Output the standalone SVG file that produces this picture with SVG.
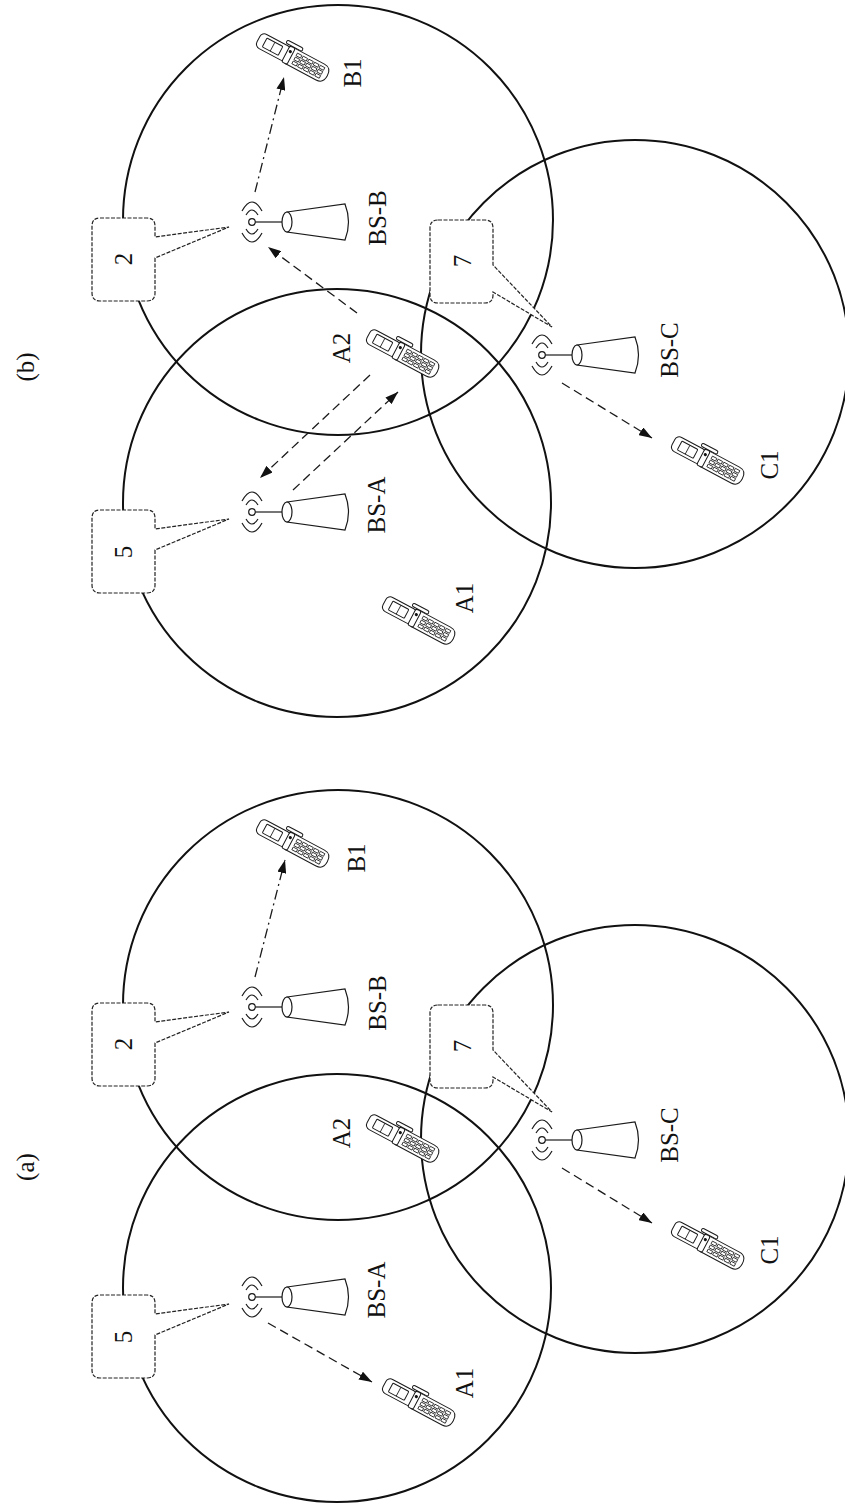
<svg xmlns="http://www.w3.org/2000/svg" xmlns:xlink="http://www.w3.org/1999/xlink" width="845" height="1505" viewBox="0 0 845 1505">
<style>
.cell{fill:none;stroke:#111;stroke-width:2}
.ant{fill:none;stroke:#1a1a1a;stroke-width:1.2}
.callout{fill:#fff;stroke:#222;stroke-width:1.2;stroke-dasharray:4 1.5}
.lbl{font-family:"Liberation Serif","Times New Roman",serif;font-size:25px;fill:#111}
.conn{fill:none;stroke:#1a1a1a;stroke-width:1.3;stroke-dasharray:9 5}
.dd{stroke-dasharray:10 4 2 4}
.ph{fill:#fff;stroke:#1a1a1a;stroke-width:1}
.key{fill:#fff;stroke:#1a1a1a;stroke-width:0.8}
</style>
<defs>
<marker id="arr" markerUnits="userSpaceOnUse" markerWidth="13" markerHeight="9" viewBox="0 0 13 9" refX="13" refY="4.5" orient="auto">
<path d="M0,0 L13,4.5 L0,9 Z" fill="#111"/>
</marker>
<g id="antenna" class="ant">
<circle cx="0" cy="0" r="3.3"/>
<path d="M -10,-11 Q 0,-29 10,-11 M -6,-7 Q 0,-17 6,-7 M -10,11 Q 0,29 10,11 M -6,7 Q 0,17 6,7"/>
<line x1="3.3" y1="0" x2="30" y2="0"/>
<path d="M 35,-10 L 93,-18 Q 100,0 93,18 L 35,10 Z" fill="#fff"/>
<ellipse cx="35" cy="0" rx="5" ry="10" fill="#fff"/>
</g>
<g id="phone">
<rect class="ph" x="-12" y="-13" width="18" height="3.5" rx="1.7"/>
<path class="ph" d="M -3,-9 H 32 Q 40,-9 40,0 Q 40,9 32,9 H -3 Z"/>
<rect class="ph" x="-38" y="-8" width="34" height="16" rx="5"/>
<rect class="ph" x="-31" y="-5" width="18" height="10" rx="1"/>
<line x1="-22" y1="-5" x2="-22" y2="5" stroke="#1a1a1a" stroke-width="0.8"/>
<rect class="ph" x="-7" y="-9" width="6" height="18" rx="2"/>
<circle cx="-4" cy="-4" r="1.6" fill="#111"/>
<g class="key">
<rect x="3" y="-6" width="5" height="3"/><rect x="9.5" y="-6" width="5" height="3"/><rect x="16" y="-6" width="5" height="3"/><rect x="22.5" y="-6" width="5" height="3"/><rect x="29" y="-6" width="5" height="3"/>
<rect x="3" y="-1.5" width="5" height="3"/><rect x="9.5" y="-1.5" width="5" height="3"/><rect x="16" y="-1.5" width="5" height="3"/><rect x="22.5" y="-1.5" width="5" height="3"/><rect x="29" y="-1.5" width="5" height="3"/>
<rect x="3" y="3" width="5" height="3"/><rect x="9.5" y="3" width="5" height="3"/><rect x="16" y="3" width="5" height="3"/><rect x="22.5" y="3" width="5" height="3"/><rect x="29" y="3" width="5" height="3"/>
</g>
</g>
</defs>
<rect width="845" height="1505" fill="#fff"/>

<!-- cells -->
<g id="cells">
<circle id="cell-a-A" class="cell" cx="337" cy="1288" r="214"/>
<circle id="cell-a-B" class="cell" cx="338" cy="1005" r="215"/>
<circle id="cell-a-C" class="cell" cx="635" cy="1139" r="214"/>
<circle id="cell-b-A" class="cell" cx="337" cy="503" r="214"/>
<circle id="cell-b-B" class="cell" cx="338" cy="220" r="215"/>
<circle id="cell-b-C" class="cell" cx="635" cy="354" r="214"/>
</g>

<!-- connectors -->
<g id="connectors">
<line class="conn" x1="268" y1="1323" x2="372" y2="1382" marker-end="url(#arr)"/>
<line class="conn dd" x1="255" y1="977" x2="285" y2="860" marker-end="url(#arr)"/>
<line class="conn" x1="562" y1="1168" x2="652" y2="1223" marker-end="url(#arr)"/>
<line class="conn dd" x1="255" y1="192" x2="284" y2="77" marker-end="url(#arr)"/>
<line class="conn" x1="562" y1="383" x2="652" y2="438" marker-end="url(#arr)"/>
<line class="conn" x1="370" y1="375" x2="260" y2="478" marker-end="url(#arr)"/>
<line class="conn" x1="293" y1="490" x2="398" y2="392" marker-end="url(#arr)"/>
<line class="conn" x1="357" y1="313" x2="268" y2="247" marker-end="url(#arr)"/>
</g>

<!-- panel (a) -->
<g id="label-a"><text class="lbl" x="25" y="1167" transform="rotate(-90 25 1167)" text-anchor="middle" dominant-baseline="central">(a)</text></g>
<g id="a-BS-A"><use xlink:href="#antenna" href="#antenna" x="252" y="1297"/><text class="lbl" x="376" y="1290" transform="rotate(-90 376 1290)" text-anchor="middle" dominant-baseline="central">BS-A</text></g>
<g id="a-BS-B"><use xlink:href="#antenna" href="#antenna" x="252" y="1007"/><text class="lbl" x="377" y="1003" transform="rotate(-90 377 1003)" text-anchor="middle" dominant-baseline="central">BS-B</text></g>
<g id="a-BS-C"><use xlink:href="#antenna" href="#antenna" x="542" y="1140"/><text class="lbl" x="669" y="1135" transform="rotate(-90 669 1135)" text-anchor="middle" dominant-baseline="central">BS-C</text></g>
<g id="a-A1"><use xlink:href="#phone" href="#phone" transform="translate(418 1402) rotate(28)"/><text class="lbl" x="464" y="1383" transform="rotate(-90 464 1383)" text-anchor="middle" dominant-baseline="central">A1</text></g>
<g id="a-A2"><use xlink:href="#phone" href="#phone" transform="translate(402 1138) rotate(28)"/><text class="lbl" x="341" y="1133" transform="rotate(-90 341 1133)" text-anchor="middle" dominant-baseline="central">A2</text></g>
<g id="a-B1"><use xlink:href="#phone" href="#phone" transform="translate(292 843) rotate(28)"/><text class="lbl" x="356" y="858" transform="rotate(-90 356 858)" text-anchor="middle" dominant-baseline="central">B1</text></g>
<g id="a-C1"><use xlink:href="#phone" href="#phone" transform="translate(707 1245) rotate(28)"/><text class="lbl" x="769" y="1250" transform="rotate(-90 769 1250)" text-anchor="middle" dominant-baseline="central">C1</text></g>
<g id="a-call-5"><path class="callout" d="M 100,1295 H 147 Q 155,1295 155,1303 V 1314 L 229,1304 L 155,1335 V 1370 Q 155,1378 147,1378 H 100 Q 92,1378 92,1370 V 1303 Q 92,1295 100,1295 Z"/><text class="lbl" x="123" y="1337" transform="rotate(-90 123 1337)" text-anchor="middle" dominant-baseline="central">5</text></g>
<g id="a-call-2"><path class="callout" d="M 100,1003 H 147 Q 155,1003 155,1011 V 1022 L 229,1012 L 155,1043 V 1078 Q 155,1086 147,1086 H 100 Q 92,1086 92,1078 V 1011 Q 92,1003 100,1003 Z"/><text class="lbl" x="123" y="1044" transform="rotate(-90 123 1044)" text-anchor="middle" dominant-baseline="central">2</text></g>
<g id="a-call-7"><path class="callout" d="M 438,1005 H 485 Q 493,1005 493,1013 V 1050 L 552,1112 L 493,1077 V 1080 Q 493,1088 485,1088 H 438 Q 430,1088 430,1080 V 1013 Q 430,1005 438,1005 Z"/><text class="lbl" x="462" y="1046" transform="rotate(-90 462 1046)" text-anchor="middle" dominant-baseline="central">7</text></g>

<!-- panel (b) -->
<g id="label-b"><text class="lbl" x="25" y="367" transform="rotate(-90 25 367)" text-anchor="middle" dominant-baseline="central">(b)</text></g>
<g id="b-BS-A"><use xlink:href="#antenna" href="#antenna" x="252" y="512"/><text class="lbl" x="376" y="505" transform="rotate(-90 376 505)" text-anchor="middle" dominant-baseline="central">BS-A</text></g>
<g id="b-BS-B"><use xlink:href="#antenna" href="#antenna" x="252" y="222"/><text class="lbl" x="377" y="218" transform="rotate(-90 377 218)" text-anchor="middle" dominant-baseline="central">BS-B</text></g>
<g id="b-BS-C"><use xlink:href="#antenna" href="#antenna" x="542" y="355"/><text class="lbl" x="669" y="350" transform="rotate(-90 669 350)" text-anchor="middle" dominant-baseline="central">BS-C</text></g>
<g id="b-A1"><use xlink:href="#phone" href="#phone" transform="translate(418 620) rotate(28)"/><text class="lbl" x="464" y="598" transform="rotate(-90 464 598)" text-anchor="middle" dominant-baseline="central">A1</text></g>
<g id="b-A2"><use xlink:href="#phone" href="#phone" transform="translate(402 353) rotate(28)"/><text class="lbl" x="341" y="348" transform="rotate(-90 341 348)" text-anchor="middle" dominant-baseline="central">A2</text></g>
<g id="b-B1"><use xlink:href="#phone" href="#phone" transform="translate(292 57) rotate(28)"/><text class="lbl" x="352" y="73" transform="rotate(-90 352 73)" text-anchor="middle" dominant-baseline="central">B1</text></g>
<g id="b-C1"><use xlink:href="#phone" href="#phone" transform="translate(707 460) rotate(28)"/><text class="lbl" x="769" y="465" transform="rotate(-90 769 465)" text-anchor="middle" dominant-baseline="central">C1</text></g>
<g id="b-call-5"><path class="callout" d="M 100,510 H 147 Q 155,510 155,518 V 529 L 229,519 L 155,550 V 585 Q 155,593 147,593 H 100 Q 92,593 92,585 V 518 Q 92,510 100,510 Z"/><text class="lbl" x="123" y="552" transform="rotate(-90 123 552)" text-anchor="middle" dominant-baseline="central">5</text></g>
<g id="b-call-2"><path class="callout" d="M 100,218 H 147 Q 155,218 155,226 V 237 L 229,227 L 155,258 V 293 Q 155,301 147,301 H 100 Q 92,301 92,293 V 226 Q 92,218 100,218 Z"/><text class="lbl" x="123" y="259" transform="rotate(-90 123 259)" text-anchor="middle" dominant-baseline="central">2</text></g>
<g id="b-call-7"><path class="callout" d="M 438,220 H 485 Q 493,220 493,228 V 265 L 552,327 L 493,292 V 295 Q 493,303 485,303 H 438 Q 430,303 430,295 V 228 Q 430,220 438,220 Z"/><text class="lbl" x="462" y="261" transform="rotate(-90 462 261)" text-anchor="middle" dominant-baseline="central">7</text></g>
</svg>
